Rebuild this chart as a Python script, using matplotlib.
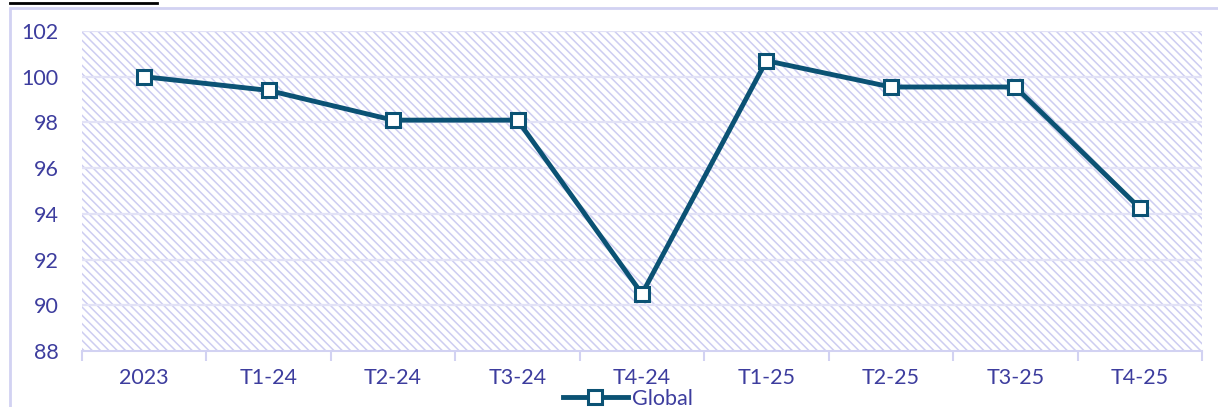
import matplotlib
matplotlib.use('Agg')
import matplotlib.pyplot as plt
from matplotlib.patches import Rectangle
from matplotlib.lines import Line2D

categories = ["2023", "T1-24", "T2-24", "T3-24", "T4-24", "T1-25", "T2-25", "T3-25", "T4-25"]
global_idx = [100.0, 99.4, 98.1, 98.1, 90.5, 100.7, 99.55, 99.55, 94.25]
yticks = [88, 90, 92, 94, 96, 98, 100, 102]

line_color = "#0b5274"
text_color = "#3d3d9e"
lav = "#d2d2f2"
hatch_color = "#cdcdf1"

plt.rcParams['font.family'] = ['Lato', 'DejaVu Sans']
plt.rcParams['hatch.linewidth'] = 1.1
plt.rcParams['hatch.color'] = hatch_color

fig = plt.figure(figsize=(12.18, 4.07), dpi=100)
W, H = 1218, 407
ax = fig.add_axes([82 / W, 1 - 351 / H, (1202 - 82) / W, (351 - 31) / H])

# outer chart frame
fig.add_artist(Rectangle((10 / W, -0.1), 1.1, 1 - 8 / H + 0.1, transform=fig.transFigure,
                         fill=False, edgecolor=lav, linewidth=2))
# cut-off heading underline
fig.add_artist(Line2D([10 / W, 157 / W], [1 - 2.5 / H, 1 - 2.5 / H], transform=fig.transFigure,
                      color="black", linewidth=2))

x = list(range(len(categories)))
ax.set_xlim(-0.5, len(categories) - 0.5)
ax.set_ylim(88, 102)

ax.add_patch(Rectangle((0, 0), 1, 1, transform=ax.transAxes, facecolor="white",
                       edgecolor=hatch_color, hatch='\\\\\\\\', linewidth=0, zorder=0))
for yv in yticks[1:]:
    ax.axhline(yv, color="#e2e2f6", linewidth=1.6, zorder=1)

ax.plot(x, global_idx, color=line_color, linewidth=3.5, marker='s', markersize=10,
        markerfacecolor="white", markeredgecolor=line_color, markeredgewidth=2.2, zorder=3,
        label="Global")

for s in ["top", "right", "left"]:
    ax.spines[s].set_visible(False)
ax.spines["bottom"].set_color(lav)
ax.spines["bottom"].set_linewidth(1.5)

ax.set_yticks(yticks)
ax.set_yticklabels([str(v) for v in yticks], color=text_color, fontsize=15.5)
ax.tick_params(axis='y', length=0, pad=17)
ax.set_xticks(x)
ax.set_xticklabels(categories, color=text_color, fontsize=15.5)
ax.tick_params(axis='x', length=0, pad=12)
ax.set_xticks([i - 0.5 for i in range(len(categories) + 1)], minor=True)
ax.tick_params(axis='x', which='minor', length=7, width=1.5, color=lav, direction='out')

fig.legend(loc='center', bbox_to_anchor=(628 / W, 1 - 399 / H), frameon=False,
           fontsize=15.5, handlelength=3.0, handletextpad=0.2, labelcolor=text_color,
           borderpad=0)

fig.savefig("out.png", dpi=100)
